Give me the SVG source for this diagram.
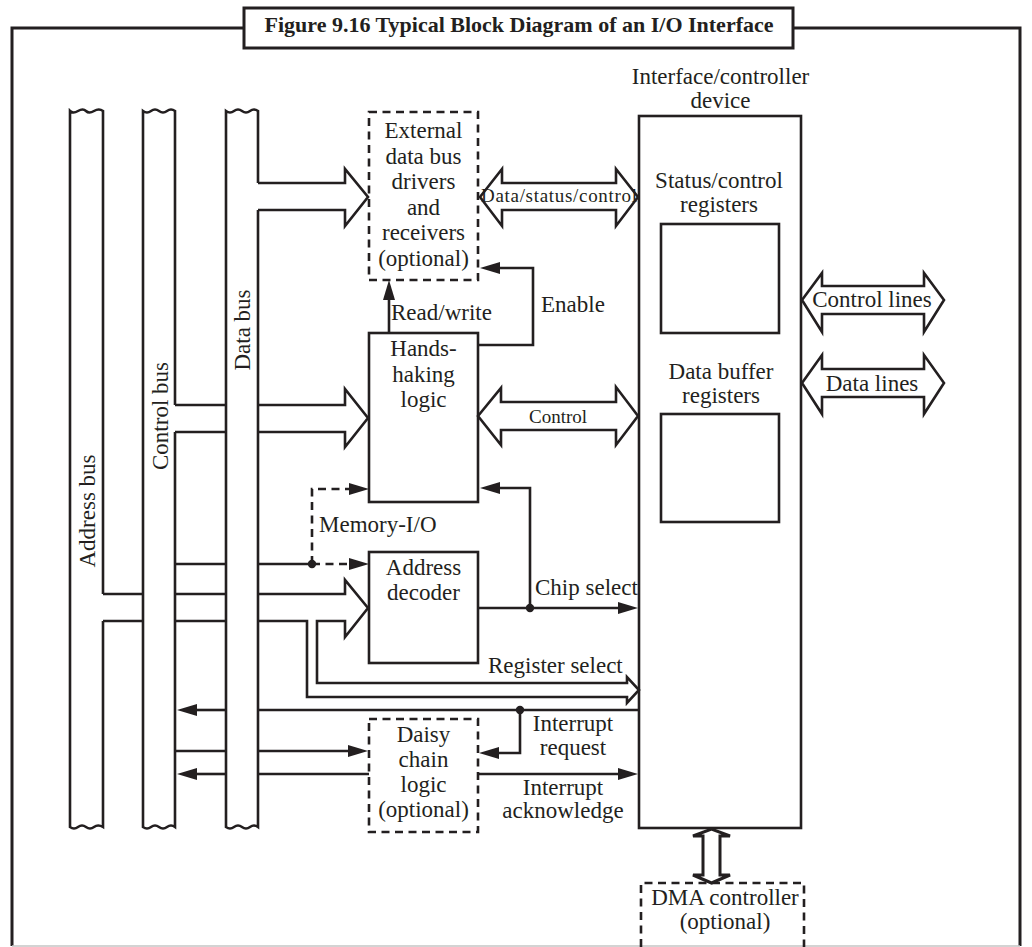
<svg xmlns="http://www.w3.org/2000/svg" width="1032" height="947" viewBox="0 0 1032 947">
<defs>
  <marker id="ah" markerUnits="userSpaceOnUse" markerWidth="20" markerHeight="12" refX="0" refY="6" orient="auto" overflow="visible">
    <path d="M0,0 L20,6 L0,12 Z" fill="#231f20"/>
  </marker>
</defs>
<style>
  .ln{fill:none;stroke:#231f20;stroke-width:2.6;stroke-linejoin:miter}
  .ar{fill:none;stroke:#231f20;stroke-width:2.6;marker-end:url(#ah)}
  .dl{fill:none;stroke:#231f20;stroke-width:2.6;stroke-dasharray:8 5.5;marker-end:url(#ah)}
  .bx{fill:#fff;stroke:#231f20;stroke-width:2.6}
  .dash{fill:#fff;stroke:#231f20;stroke-width:2.6;stroke-dasharray:8 5.5}
  .t{font-family:"Liberation Serif","Times New Roman",serif;font-size:23px;fill:#231f20}
  .c{text-anchor:middle}
  .s{font-size:19px}
  .dot{fill:#231f20}
</style>
<rect width="1032" height="947" fill="#fff"/>

<!-- outer frame and caption -->
<g id="frame">
  <path class="ln" d="M244,28 H12 V946 M793,28 H1020 V946" style="stroke-width:3"/>
  <path d="M12,946 H1020" stroke="#c4c4c4" stroke-width="1.5" fill="none"/>
  <rect x="244" y="8" width="549" height="40" fill="#fff" stroke="#231f20" stroke-width="3"/>
  <text class="t c" x="519" y="32" style="font-size:22px;font-weight:bold">Figure 9.16 Typical Block Diagram of an I/O Interface</text>
</g>

<!-- system buses -->
<g id="address-bus">
  <path class="ln" d="M103,594 V111 Q99,108 94,111 T86,111 T78,111 T70,111 V827 Q74,830 78,827 T86,827 T94,827 T103,827 V621"/>
  <text class="t c" transform="translate(95,511) rotate(-90)">Address bus</text>
</g>
<g id="control-bus">
  <path class="ln" d="M175,405 V111 Q171,108 167,111 T159,111 T151,111 T143,111 V827 Q147,830 151,827 T159,827 T167,827 T175,827 V432"/>
  <text class="t c" transform="translate(168,416) rotate(-90)">Control bus</text>
</g>
<g id="data-bus">
  <path class="ln" d="M258,183 V111 Q254,108 250,111 T242,111 T234,111 T226,111 V827 Q230,830 234,827 T242,827 T250,827 T258,827 V210"/>
  <text class="t c" transform="translate(250,330) rotate(-90)">Data bus</text>
</g>

<!-- blocks -->
<g id="ext-drivers">
  <rect class="dash" x="369" y="112" width="109" height="168"/>
  <text class="t c" x="423.5" y="138">External</text>
  <text class="t c" x="423.5" y="163.5">data bus</text>
  <text class="t c" x="423.5" y="189">drivers</text>
  <text class="t c" x="423.5" y="214.5">and</text>
  <text class="t c" x="423.5" y="240">receivers</text>
  <text class="t c" x="423.5" y="265.5">(optional)</text>
</g>
<g id="handshaking">
  <rect class="bx" x="369" y="333" width="109" height="169"/>
  <text class="t c" x="423.5" y="356">Hands-</text>
  <text class="t c" x="423.5" y="381.5">haking</text>
  <text class="t c" x="423.5" y="407">logic</text>
</g>
<g id="address-decoder">
  <rect class="bx" x="369" y="552" width="109" height="111"/>
  <text class="t c" x="423.5" y="575">Address</text>
  <text class="t c" x="423.5" y="600">decoder</text>
</g>
<g id="daisy-chain">
  <rect class="dash" x="369" y="719" width="109" height="113"/>
  <text class="t c" x="423.5" y="742">Daisy</text>
  <text class="t c" x="423.5" y="767">chain</text>
  <text class="t c" x="423.5" y="792">logic</text>
  <text class="t c" x="423.5" y="817">(optional)</text>
</g>
<g id="interface-device">
  <text class="t c" x="720.5" y="84">Interface/controller</text>
  <text class="t c" x="720.5" y="108">device</text>
  <rect class="bx" x="639" y="116" width="162" height="712"/>
  <text class="t c" x="719" y="188">Status/control</text>
  <text class="t c" x="719" y="212">registers</text>
  <rect class="bx" x="661" y="224" width="118" height="109"/>
  <text class="t c" x="721" y="379">Data buffer</text>
  <text class="t c" x="721" y="403">registers</text>
  <rect class="bx" x="661" y="414" width="118" height="108"/>
</g>
<g id="dma-controller">
  <path class="dash" d="M641,947 V883 H804 V947" style="fill:none"/>
  <text class="t c" x="725" y="905">DMA controller</text>
  <text class="t c" x="725" y="929">(optional)</text>
</g>

<!-- connectors -->
<g id="connectors">
  <!-- data bus to external drivers -->
  <path class="ln" d="M258,183 H345 V169 L368,197 L345,226 V210 H258"/>
  <!-- data/status/control -->
  <path class="ln" d="M480,197 L502,169 V183 H616 V169 L638,197 L616,226 V210 H502 V226 Z"/>
  <text class="t s c" x="559" y="202" textLength="156" lengthAdjust="spacing">Data/status/control</text>
  <!-- read/write and enable -->
  <path class="ar" d="M389,333 V300"/>
  <text class="t" x="391" y="320">Read/write</text>
  <path class="ar" d="M478,345 H533 V268 H500"/>
  <text class="t" x="541" y="312">Enable</text>
  <!-- control bus to handshaking -->
  <path class="ln" d="M175,405 H226 M258,405 H345 V389 L368,418 L345,447 V432 H258 M226,432 H175"/>
  <!-- handshaking to interface -->
  <path class="ln" d="M478,416 L501,388 V402 H616 V387 L638,416 L616,445 V430 H501 V445 Z"/>
  <text class="t s c" x="558" y="423">Control</text>
  <!-- memory-I/O -->
  <path class="ln" d="M175,564 H226 M258,564 H312"/>
  <path class="dl" d="M312,564 V489 H349"/>
  <path class="dl" d="M312,564 H349"/>
  <circle class="dot" cx="312" cy="564" r="4.2"/>
  <text class="t" x="319" y="532">Memory-I/O</text>
  <!-- address bus to decoder, with register select branch -->
  <path class="ln" d="M103,594 H143 M175,594 H226 M258,594 H345 V580 L368,608 L345,637 V621 H317 V683 H627 V677 L639,690 L627,703 V697 H307 V621 H258 M226,621 H175 M143,621 H103"/>
  <text class="t" x="488" y="673">Register select</text>
  <!-- chip select -->
  <path class="ar" d="M478,608 H618"/>
  <path class="ar" d="M530,608 V488 H500"/>
  <circle class="dot" cx="530" cy="608" r="4.2"/>
  <text class="t" x="535" y="595">Chip select</text>
  <!-- interrupt request -->
  <path class="ln" d="M639,710 H258"/>
  <path class="ar" d="M226,710 H197"/>
  <path class="ar" d="M520,710 V753 H499"/>
  <circle class="dot" cx="520" cy="710" r="4.2"/>
  <text class="t c" x="573" y="731">Interrupt</text>
  <text class="t c" x="573" y="755">request</text>
  <!-- daisy chain lines -->
  <path class="ln" d="M175,751 H226"/>
  <path class="ar" d="M258,751 H348"/>
  <path class="ln" d="M369,774 H258"/>
  <path class="ar" d="M226,774 H197"/>
  <path class="ar" d="M478,774 H618"/>
  <text class="t c" x="563" y="795">Interrupt</text>
  <text class="t c" x="563" y="818">acknowledge</text>
  <!-- external control and data lines -->
  <path class="ln" d="M802,300 L822,273 V286 H924 V273 L944,300 L924,332 V314 H822 V332 Z"/>
  <text class="t c" x="872" y="307">Control lines</text>
  <path class="ln" d="M802,383 L822,355 V369 H924 V355 L944,383 L924,414 V397 H822 V414 Z"/>
  <text class="t c" x="872" y="391">Data lines</text>
  <!-- DMA link -->
  <path class="ln" d="M703,836 H693 L711.5,829 L730,836 H720 V875 H730 L711.5,883 L693,875 H703 Z" style="stroke-width:3"/>
</g>
</svg>
